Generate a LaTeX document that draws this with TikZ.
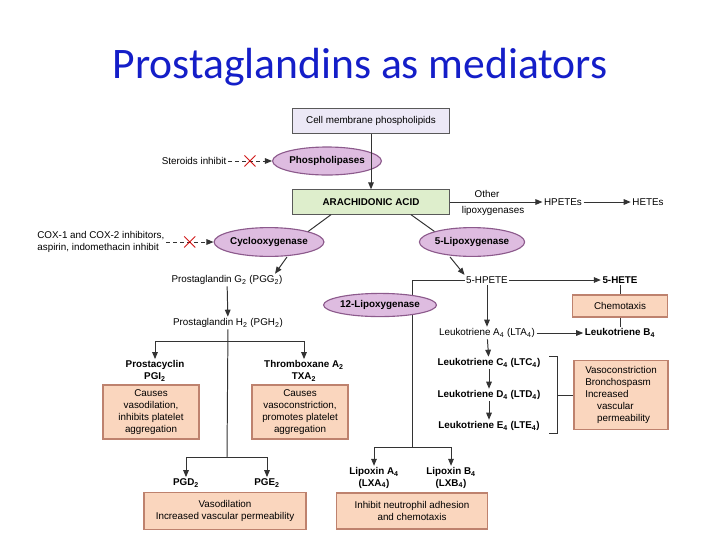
\documentclass[tikz,border=0pt]{standalone}
\usepackage{fontspec}
\setmainfont{Liberation Sans}
\newfontfamily\titlefont{Carlito}
\usetikzlibrary{shapes.geometric,arrows.meta}
\definecolor{lavbox}{RGB}{236,232,246}
\definecolor{greenbox}{RGB}{222,238,204}
\definecolor{peach}{RGB}{250,214,190}
\definecolor{peachline}{RGB}{190,130,110}
\definecolor{enzfill}{RGB}{222,188,224}
\definecolor{enzline}{RGB}{140,90,140}
\definecolor{titleblue}{RGB}{20,30,200}
\tikzset{
  txt/.style={font=\fontsize{7}{8.4}\selectfont, inner sep=1pt, align=center},
  bold/.style={txt, font=\fontsize{7}{8.4}\selectfont\bfseries},
  box/.style={draw=gray!70!black, fill=lavbox, txt, minimum width=3.92cm, minimum height=0.62cm},
  effect/.style={draw=peachline, fill=peach, txt, line width=0.8pt},
  enzyme/.style={ellipse, draw=enzline, fill=enzfill, bold, line width=0.8pt, inner sep=0pt},
  line/.style={draw=black!80, line width=0.7pt},
  arr/.style={line, -{Triangle[length=5pt,width=4pt]}},
  inhib/.style={arr, densely dashed},
  xmark/.style={text=red!80!black, font=\fontsize{16}{16}\selectfont, inner sep=0pt}
}
\begin{document}
\begin{tikzpicture}[x=0.025cm, y=-0.025cm]
\useasboundingbox (0,0) rectangle (720,540);
\node[text=titleblue, font=\titlefont\fontsize{31}{34}\selectfont] (title) at (360,67) {Prostaglandins as mediators};

% top of the cascade
\node[box] (Membrane) at (371,121) {Cell membrane phospholipids};
\node[enzyme, minimum width=2.72cm, minimum height=0.7cm] (Phospholipases) at (327,161) {Phospholipases};
\node[box, fill=greenbox, bold] (Arachidonic) at (371,202) {ARACHIDONIC ACID};
\node[txt, anchor=east] (Steroids) at (228,161) {Steroids inhibit};
\node[txt, anchor=east, align=left] (COX) at (166,242) {COX-1 and COX-2 inhibitors,\\aspirin, indomethacin inhibit};

\begin{scope}[every node/.style={enzyme}]
\node[minimum width=2.55cm, minimum height=0.72cm] (Cyclooxygenase) at (269,242) {Cyclooxygenase};
\node[minimum width=2.38cm, minimum height=0.72cm] (FiveLipox) at (472,242) {5-Lipoxygenase};
\end{scope}

% other lipoxygenases
\node[txt] (Other) at (487,194) {Other};
\node[txt] (OtherLip) at (493,211) {lipoxygenases};
\node[txt] (HPETEs) at (563,202) {HPETEs};
\node[txt] (HETEs) at (648,202) {HETEs};

% cyclooxygenase branch
\node[txt] (PGG) at (227,280) {Prostaglandin G\textsubscript{2} (PGG\textsubscript{2})};
\node[txt] (PGH) at (228,323) {Prostaglandin H\textsubscript{2} (PGH\textsubscript{2})};
\node[bold] (PGI) at (155,371) {Prostacyclin\\PGI\textsubscript{2}};
\node[bold] (TXA) at (304,371) {Thromboxane A\textsubscript{2}\\TXA\textsubscript{2}};
\node[effect, minimum width=2.4cm, minimum height=1.35cm] (PGIeff) at (151,412) {Causes\\vasodilation,\\inhibits platelet\\aggregation};
\node[effect, minimum width=2.4cm, minimum height=1.35cm] (TXAeff) at (300,412) {Causes\\vasoconstriction,\\promotes platelet\\aggregation};
\node[bold] (PGD) at (186,483) {PGD\textsubscript{2}};
\node[bold] (PGE) at (267,483) {PGE\textsubscript{2}};
\node[effect, minimum width=4.05cm, minimum height=0.92cm] (PGeff) at (225,511) {Vasodilation\\Increased vascular permeability};

% lipoxygenase branch
\node[txt] (HPETE) at (487,280) {5-HPETE};
\node[bold] (HETE) at (620,280) {5-HETE};
\node[effect, minimum width=2.38cm, minimum height=0.55cm] (Chemotaxis) at (620,306) {Chemotaxis};
\node[txt] (LTA) at (487,333) {Leukotriene A\textsubscript{4} (LTA\textsubscript{4})};
\node[bold] (LTB) at (620,333) {Leukotriene B\textsubscript{4}};
\node[bold] (LTC) at (489,363) {Leukotriene C\textsubscript{4} (LTC\textsubscript{4})};
\node[bold] (LTD) at (489,395) {Leukotriene D\textsubscript{4} (LTD\textsubscript{4})};
\node[bold] (LTE) at (489,426) {Leukotriene E\textsubscript{4} (LTE\textsubscript{4})};
\node[effect, align=left, minimum width=2.35cm, minimum height=1.72cm] (LTeff) at (621,395) {Vasoconstriction\\Bronchospasm\\Increased\\\hspace{1.2em}vascular\\\hspace{1.2em}permeability};
\node[bold] (LXA) at (374,478) {Lipoxin A\textsubscript{4}\\(LXA\textsubscript{4})};
\node[bold] (LXB) at (451,478) {Lipoxin B\textsubscript{4}\\(LXB\textsubscript{4})};
\node[effect, minimum width=3.78cm, minimum height=0.9cm] (LXeff) at (412,511) {Inhibit neutrophil adhesion\\and chemotaxis};

% junctions
\coordinate (h1) at (227,341);
\coordinate (h2) at (227,457);
\coordinate (l1) at (412,280);
\coordinate (l2) at (412,447);
\coordinate (bt) at (557,356);
\coordinate (bb) at (557,433);

% connectors
\draw[arr] (Membrane) -- (Arachidonic);
\draw[inhib] (Steroids) -- node[xmark]{$\times$} (Phospholipases);
\draw[inhib] (COX) -- node[xmark]{$\times$} (Cyclooxygenase);
\draw[line] ([xshift=-1cm]Arachidonic.south) -- (Cyclooxygenase.north east);
\draw[line] ([xshift=1cm]Arachidonic.south) -- (FiveLipox.north west);
\draw[arr] (Arachidonic.east) -- (HPETEs.west);
\draw[arr] (HPETEs) -- (HETEs);
\draw[arr] ([xshift=0.45cm]Cyclooxygenase.south) -- ([xshift=1.2cm]PGG.north);
\draw[arr] ([xshift=-0.55cm]FiveLipox.south) -- (HPETE.north west);
\draw[arr] (PGG) -- (PGH);
\draw[line] (PGH) -- (h2);
\draw[arr] (h1) -| (PGI);
\draw[arr] (h1) -| (TXA);
\draw[arr] (h2) -| (PGD);
\draw[arr] (h2) -| (PGE);
\draw[arr] (HPETE) -- (HETE);
\draw[line] (HPETE) -- (l1) -- (l2);
\draw[arr] (l2) -| (LXA);
\draw[arr] (l2) -| (LXB);
\draw[arr] (HPETE) -- (LTA);
\draw[arr] (LTA) -- (LTB);
\draw[line] (HETE) -- (Chemotaxis) -- (LTB);
\draw[arr] (LTA) -- (LTC);
\draw[arr] (LTC) -- (LTD);
\draw[arr] (LTD) -- (LTE);
\draw[line] ([xshift=-0.2cm]bt) -- (bt) -- (bb) -- ([xshift=-0.2cm]bb);
\draw[line] (bt |- LTeff) -- (LTeff);

% enzyme over the line
\node[enzyme, minimum width=2.82cm, minimum height=0.58cm] (TwelveLipox) at (380,305) {12-Lipoxygenase};
\end{tikzpicture}
\end{document}
